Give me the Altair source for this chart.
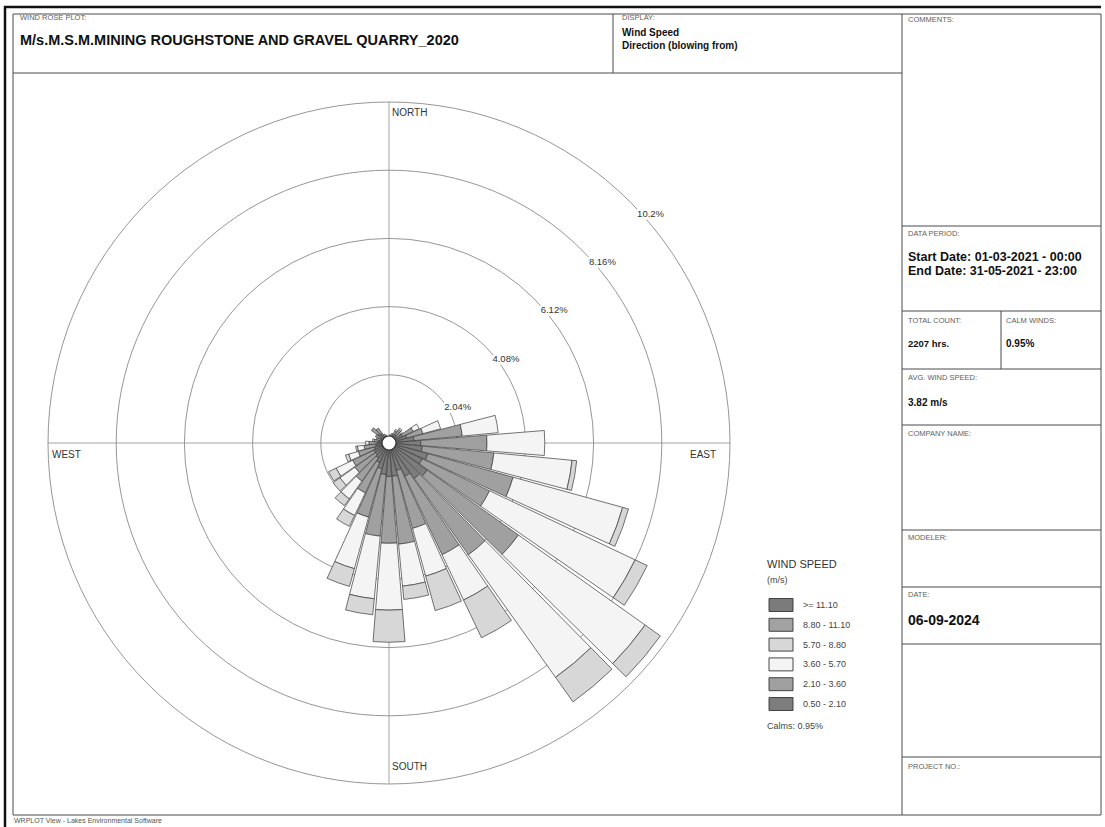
import math
import altair as alt
import pandas as pd

# ---------------------------------------------------------------- data
DIRECTIONS = [0, 10, 20, 30, 40, 50, 60, 70, 80, 90, 100, 110,
              120, 130, 140, 150, 160, 170, 180, 190, 200, 210, 220, 230,
              240, 250, 260, 270, 280, 290, 300, 310, 320, 330, 340, 350]

# frequency of occurrence (%) per direction sector, one list per speed class
FREQ_050_210 = [0.12, 0.15, 0.18, 0.25, 0.30, 0.28, 0.45, 0.55, 0.75, 0.95, 1.00, 1.20,
                1.10, 1.40, 1.30, 1.10, 0.85, 1.00, 1.00, 0.95, 0.80, 0.65, 0.55, 0.50,
                0.50, 0.45, 0.40, 0.35, 0.30, 0.25, 0.28, 0.40, 0.35, 0.20, 0.15, 0.12]
FREQ_210_360 = [0.08, 0.10, 0.12, 0.15, 0.20, 0.17, 0.35, 0.50, 1.45, 1.98, 2.15, 2.65,
                2.23, 3.35, 2.80, 2.60, 1.80, 2.04, 2.00, 1.85, 1.50, 1.00, 0.85, 0.75,
                0.70, 0.50, 0.35, 0.25, 0.15, 0.15, 0.17, 0.25, 0.20, 0.10, 0.10, 0.08]
FREQ_360_570 = [0.00, 0.00, 0.00, 0.05, 0.05, 0.05, 0.20, 0.55, 1.08, 1.73, 2.35, 3.40,
                4.82, 4.65, 4.50, 1.50, 1.48, 1.26, 2.00, 1.88, 1.60, 0.75, 0.65, 0.55,
                0.55, 0.30, 0.20, 0.10, 0.05, 0.00, 0.00, 0.00, 0.00, 0.00, 0.00, 0.00]
FREQ_570_880 = [0.00, 0.00, 0.00, 0.00, 0.00, 0.00, 0.00, 0.00, 0.00, 0.00, 0.14, 0.18,
                0.40, 0.56, 0.90, 1.25, 1.07, 0.40, 0.96, 0.48, 0.55, 0.36, 0.25, 0.25,
                0.25, 0.10, 0.05, 0.00, 0.00, 0.00, 0.00, 0.00, 0.00, 0.00, 0.00, 0.00]
FREQ_880_1110 = [0.00, 0.00, 0.00, 0.00, 0.00, 0.00, 0.00, 0.00, 0.00, 0.00, 0.00, 0.00,
                 0.00, 0.00, 0.00, 0.00, 0.00, 0.00, 0.00, 0.00, 0.00, 0.00, 0.00, 0.00,
                 0.00, 0.00, 0.00, 0.00, 0.00, 0.00, 0.00, 0.00, 0.00, 0.00, 0.00, 0.00]
FREQ_GE_1110 = [0.00, 0.00, 0.00, 0.00, 0.00, 0.00, 0.00, 0.00, 0.00, 0.00, 0.00, 0.00,
                0.00, 0.00, 0.00, 0.00, 0.00, 0.00, 0.00, 0.00, 0.00, 0.00, 0.00, 0.00,
                0.00, 0.00, 0.00, 0.00, 0.00, 0.00, 0.00, 0.00, 0.00, 0.00, 0.00, 0.00]

# legend order (top to bottom) and fills
SPEED_CLASSES = [">= 11.10", "8.80 - 11.10", "5.70 - 8.80", "3.60 - 5.70", "2.10 - 3.60", "0.50 - 2.10"]
CLASS_COLORS = ["#7b7b7b", "#a2a2a2", "#d7d7d7", "#f4f4f4", "#a0a0a0", "#7d7d7d"]

RING_VALUES = [2.04, 4.08, 6.12, 8.16, 10.2]
RING_LABELS = ["2.04%", "4.08%", "6.12%", "8.16%", "10.2%"]

CALMS_PCT = 0.95
TOTAL_COUNT = 2207
AVG_SPEED = 3.82

PLOT_TITLE = "M/s.M.S.M.MINING ROUGHSTONE AND GRAVEL QUARRY_2020"
START_DATE = "01-03-2021 - 00:00"
END_DATE = "31-05-2021 - 23:00"
REPORT_DATE = "06-09-2024"

# ---------------------------------------------------------------- layout / style
W, H = 1105, 827
CX, CY = 389, 443          # centre of the rose
R_OUTER = 341              # pixel radius of the outermost ring
HALF_WIDTH = 4.6           # half angular width of a petal (degrees)
FONT = "Liberation Sans"
LINE = "#4a4a4a"
SMALL = "#5e5e5e"

RADIUS_SCALE = alt.Scale(type="linear", domain=[0, RING_VALUES[-1]], range=[0, R_OUTER])
THETA_SCALE = alt.Scale(type="linear", domain=[0, 360], range=[0, 2 * math.pi])
COLOR_SCALE = alt.Scale(domain=SPEED_CLASSES, range=CLASS_COLORS)
LEGEND_Y = alt.Scale(type="point", domain=SPEED_CLASSES, range=[605, 704], padding=0)

# stacked petal segments, innermost (slowest) class first
inner_to_outer = [
    ("0.50 - 2.10", FREQ_050_210),
    ("2.10 - 3.60", FREQ_210_360),
    ("3.60 - 5.70", FREQ_360_570),
    ("5.70 - 8.80", FREQ_570_880),
    ("8.80 - 11.10", FREQ_880_1110),
    (">= 11.10", FREQ_GE_1110),
]
rows = []
for i, d in enumerate(DIRECTIONS):
    base = 0.0
    for cls, freq in inner_to_outer:
        v = freq[i]
        if v > 0:
            rows.append({"dir": d, "cls": cls, "r0": base, "r1": base + v,
                         "a0": d - HALF_WIDTH, "a1": d + HALF_WIDTH})
        base += v
petal_df = pd.DataFrame(rows)
ring_df = pd.DataFrame({"ring": RING_VALUES, "label": RING_LABELS})
legend_df = pd.DataFrame({"cls": SPEED_CLASSES})
_one = pd.DataFrame({"k": [0]})


def hline(y, x1, x2, color=LINE, width=1.0):
    return alt.Chart(_one).mark_rule(color=color, strokeWidth=width).encode(
        x=alt.value(x1), x2=alt.value(x2), y=alt.value(y))


def vline(x, y1, y2, color=LINE, width=1.0):
    return alt.Chart(_one).mark_rule(color=color, strokeWidth=width).encode(
        x=alt.value(x), y=alt.value(y1), y2=alt.value(y2))


def label(x, y, text, size=7.5, bold=False, color=SMALL, align="left"):
    return alt.Chart(_one).mark_text(
        align=align, baseline="middle", font=FONT, fontSize=size,
        fontWeight="bold" if bold else "normal", color=color, text=text,
    ).encode(x=alt.value(x), y=alt.value(y))


layers = []

# ---- page frame and info boxes
layers += [
    hline(7, 4, 1101, color="#111", width=2.5),
    vline(5, 6, H, color="#111", width=2.5),
    hline(14, 13, 1101), hline(815, 13, 1101),
    vline(13, 14, 815), vline(1101, 14, 815),
    hline(73, 13, 902), vline(613, 14, 73),
    vline(902, 14, 815),
]
for yy in [226, 311, 369, 425, 530, 587, 644, 757]:
    layers.append(hline(yy, 902, 1101))
layers.append(vline(1001, 311, 369))

# ---- rose grid
layers += [
    hline(CY, CX - R_OUTER, CX + R_OUTER, color="#9a9a9a", width=0.9),
    vline(CX, CY - R_OUTER, CY + R_OUTER, color="#9a9a9a", width=0.9),
]
rings = alt.Chart(ring_df).mark_arc(filled=False, stroke="#8a8a8a", strokeWidth=0.9).encode(
    x=alt.value(CX), y=alt.value(CY),
    theta=alt.value(0), theta2=alt.value(2 * math.pi),
    radius=alt.Radius("ring:Q", scale=RADIUS_SCALE, stack=False),
)
ring_text_enc = dict(
    x=alt.value(CX), y=alt.value(CY),
    theta=alt.value(math.pi / 4),
    radius=alt.Radius("ring:Q", scale=RADIUS_SCALE, stack=False),
    text=alt.Text("label:N"),
)
ring_halo = alt.Chart(ring_df).mark_text(
    align="left", baseline="middle", dx=7, dy=12, font=FONT, fontSize=9.5,
    color="white", stroke="white", strokeWidth=5).encode(**ring_text_enc)
ring_text = alt.Chart(ring_df).mark_text(
    align="left", baseline="middle", dx=7, dy=12, font=FONT, fontSize=9.5,
    color="#333").encode(**ring_text_enc)
layers += [rings, ring_halo, ring_text]

# ---- compass labels
layers += [
    label(392, 113, "NORTH", size=10, color="#333"),
    label(392, 767, "SOUTH", size=10, color="#333"),
    label(52, 455, "WEST", size=10, color="#333"),
    label(690, 455, "EAST", size=10, color="#333"),
]

# ---- petals
petals = alt.Chart(petal_df).mark_arc(stroke="#3a3a3a", strokeWidth=0.7).encode(
    x=alt.value(CX), y=alt.value(CY),
    theta=alt.Theta("a0:Q", scale=THETA_SCALE, stack=False),
    theta2=alt.Theta2("a1"),
    radius=alt.Radius("r1:Q", scale=RADIUS_SCALE, stack=False),
    radius2=alt.Radius2("r0"),
    color=alt.Color("cls:N", scale=COLOR_SCALE, legend=None),
)
calm_circle = alt.Chart(_one).mark_point(
    shape="circle", size=196, filled=True, fill="white", stroke="#333",
    strokeWidth=1.2, opacity=1).encode(x=alt.value(CX), y=alt.value(CY))
layers += [petals, calm_circle]

# ---- speed legend
layers += [
    label(767, 565, "WIND SPEED", size=11, color="#333"),
    label(767, 580, "(m/s)", size=9, color="#444"),
]
swatches = alt.Chart(legend_df).mark_point(
    shape="M-1,-0.54L1,-0.54L1,0.54L-1,0.54Z", size=576, filled=True,
    stroke="#333", strokeWidth=0.9, opacity=1).encode(
    x=alt.value(781),
    y=alt.Y("cls:N", scale=LEGEND_Y, axis=None),
    color=alt.Color("cls:N", scale=COLOR_SCALE, legend=None),
)
swatch_text = alt.Chart(legend_df).mark_text(
    align="left", baseline="middle", font=FONT, fontSize=9, color="#444").encode(
    x=alt.value(803),
    y=alt.Y("cls:N", scale=LEGEND_Y, axis=None),
    text=alt.Text("cls:N"),
)
layers += [swatches, swatch_text,
           label(767, 726, f"Calms: {CALMS_PCT:.2f}%", size=9, color="#444")]

# ---- header
layers += [
    label(20, 18, "WIND ROSE PLOT:"),
    label(20, 41, PLOT_TITLE, size=14.5, bold=True, color="#111"),
    label(622, 18, "DISPLAY:"),
    label(622, 33, "Wind Speed", size=10, bold=True, color="#111"),
    label(622, 46, "Direction (blowing from)", size=10, bold=True, color="#111"),
]

# ---- right-hand info column
layers += [
    label(908, 20, "COMMENTS:"),
    label(908, 234, "DATA PERIOD:"),
    label(908, 257, f"Start Date: {START_DATE}", size=12.5, bold=True, color="#111"),
    label(908, 271, f"End Date: {END_DATE}", size=12.5, bold=True, color="#111"),
    label(908, 321, "TOTAL COUNT:"),
    label(1006, 321, "CALM WINDS:"),
    label(908, 344, f"{TOTAL_COUNT} hrs.", size=9.5, bold=True, color="#111"),
    label(1006, 344, f"{CALMS_PCT:.2f}%", size=10, bold=True, color="#111"),
    label(908, 378, "AVG. WIND SPEED:"),
    label(908, 403, f"{AVG_SPEED:.2f} m/s", size=10, bold=True, color="#111"),
    label(908, 434, "COMPANY NAME:"),
    label(908, 538, "MODELER:"),
    label(908, 595, "DATE:"),
    label(908, 621, REPORT_DATE, size=14, bold=True, color="#111"),
    label(908, 767, "PROJECT NO.:"),
    label(14, 821, "WRPLOT View - Lakes Environmental Software", size=7, color="#555"),
]

chart = alt.layer(*layers).properties(
    width=W, height=H,
    autosize=alt.AutoSizeParams(type="none"),
    padding=0,
    background="white",
).configure_view(strokeWidth=0)

chart.save("out.html", embed_options={"renderer": "svg", "actions": False})
